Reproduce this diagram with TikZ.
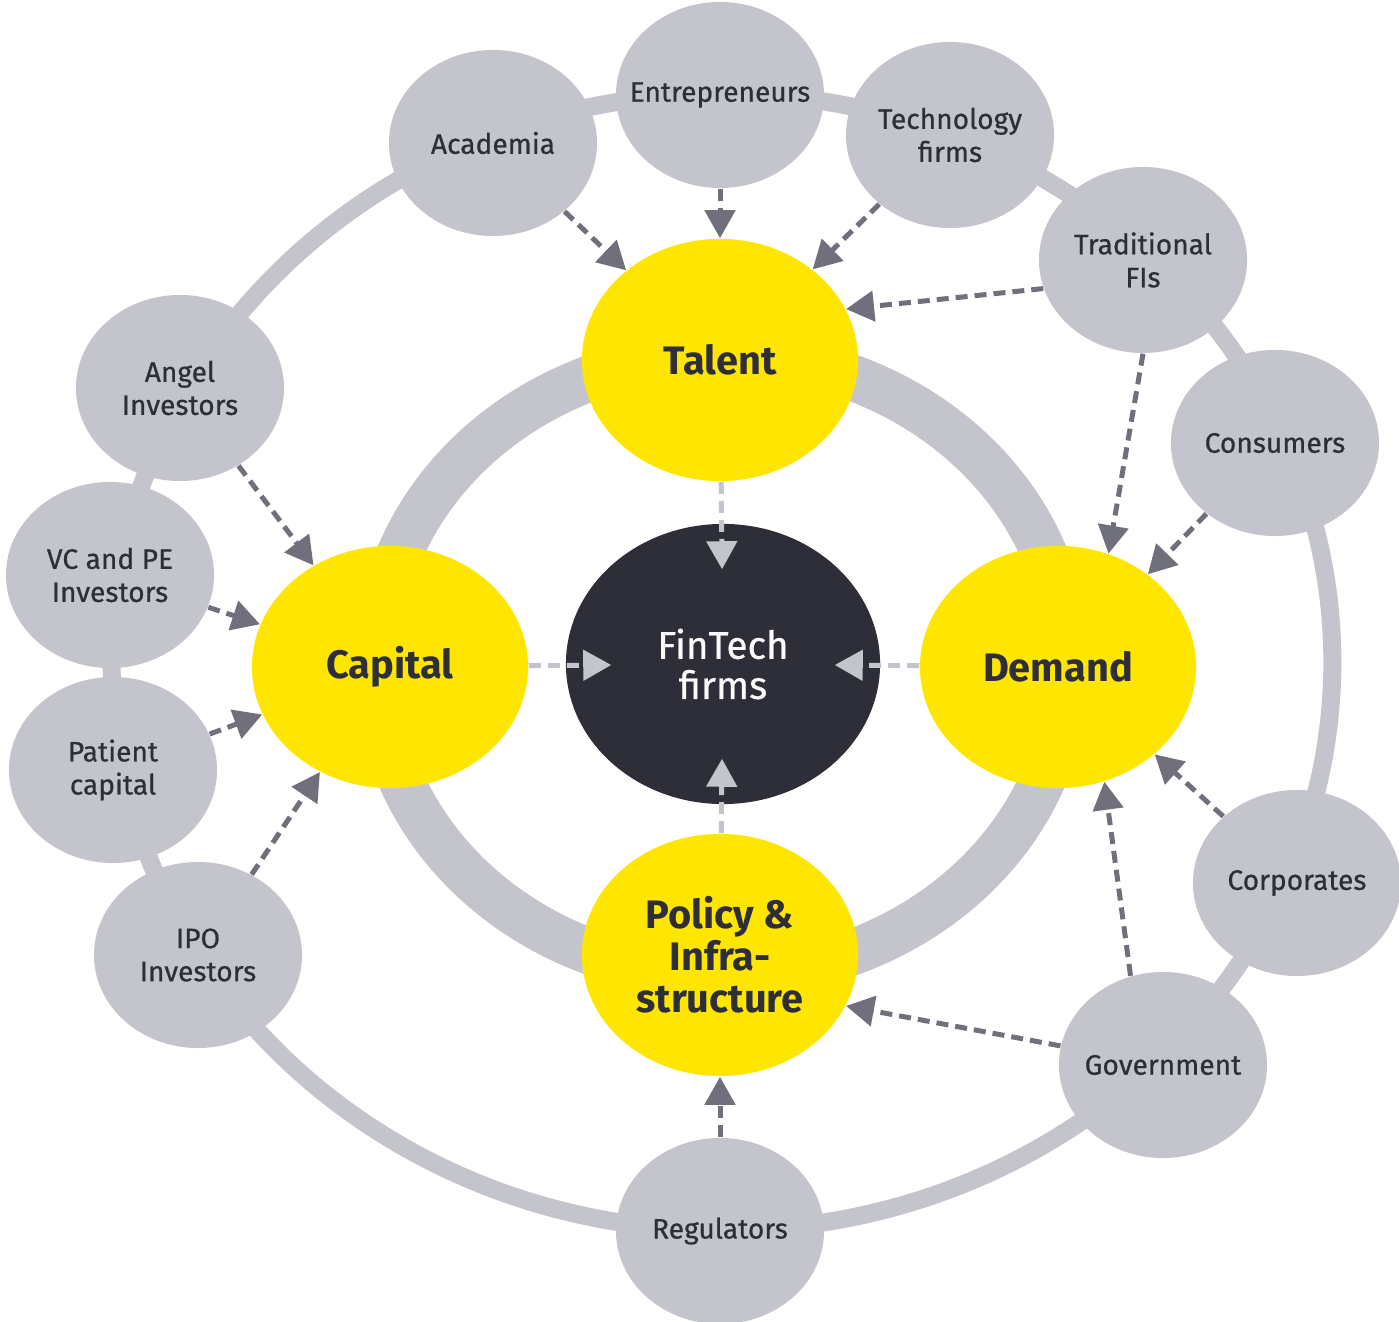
\documentclass[tikz,border=0pt]{standalone}
\usepackage{fontspec}
\setmainfont{Fira Sans}
\newfontfamily\firamedium{Fira Sans}[FakeBold=0.6]
\usetikzlibrary{shapes.geometric,arrows.meta}

\definecolor{eygray}{HTML}{C4C4CD}
\definecolor{eyyellow}{HTML}{FFE600}
\definecolor{eydark}{HTML}{2E2E38}
\definecolor{feedgray}{HTML}{70707C}
\definecolor{coregray}{HTML}{C4C4CC}

\begin{document}
\begin{tikzpicture}[x=0.01cm,y=0.01cm]

    \tikzset{
      player/.style={
        ellipse,
        fill=eygray,
        text=eydark,
        align=center,
        inner xsep=-0.4cm,
        inner ysep=0pt,
        minimum width=2.08cm,
        minimum height=1.86cm,
        font=\firamedium\fontsize{8}{9.4}\selectfont,
      },
      pillar/.style={
        ellipse,
        fill=eyyellow,
        text=eydark,
        align=center,
        inner sep=0pt,
        minimum width=2.76cm,
        minimum height=2.42cm,
        font=\fontsize{11.3}{12}\selectfont\bfseries,
      },
      hub/.style={
        ellipse,
        fill=eydark,
        text=white!92!eygray,
        align=center,
        inner sep=0pt,
        minimum width=3.14cm,
        minimum height=2.8cm,
        font=\firamedium\fontsize{11}{11.4}\selectfont,
      },
      feed/.style={
        draw=feedgray,
        line width=0.05cm,
        dash pattern=on 0.12cm off 0.07cm,
        -{Triangle[length=0.28cm,width=0.3cm]},
      },
      corefeed/.style={
        feed,
        draw=coregray,
        shorten >=-0.46cm,
      },
    }
    \useasboundingbox (0,0) rectangle (1399,-1322);

	 \draw[eygray,line width=0.18cm] (722,-662) ellipse [x radius=6.1cm, y radius=5.68cm];

	 \draw[eygray,line width=0.46cm] (722,-665) ellipse [x radius=3.45cm, y radius=3.10cm];

	 \node[player] (acad) at (493,-143) {Academia};

	 \node[player] (entre) at (720,-95) {Entrepreneurs};

	 \node[player] (tech) at (950,-135) {Technology\\firms};

	 \node[player] (trad) at (1143,-260) {Traditional\\FIs};

	 \node[player] (cons) at (1275,-443) {Consumers};

	 \node[player] (corp) at (1297,-883) {Corporates};

	 \node[player] (gov) at (1163,-1065) {Government};

	 \node[player] (reg) at (720,-1231) {Regulators};

	 \node[player] (ipo) at (198,-955) {IPO\\Investors};

	 \node[player] (patient) at (113,-770) {Patient\\capital};

	 \node[player] (vc) at (110,-575) {VC and PE\\Investors};

	 \node[player] (angel) at (180,-388) {Angel\\Investors};

	 \node[pillar] (talent) at (720,-360) {Talent};

	 \node[pillar] (capital) at (390,-667) {Capital};

	 \node[pillar] (demand) at (1058,-667) {Demand};

	 \node[pillar] (policy) at (720,-955) {Policy \&\\Infra-\\structure};

	 \node[hub] (fintech) at (723,-664) {FinTech\\firms};

	 \draw[feed] (acad) -- (talent);

	 \draw[feed] (entre) -- (talent);

	 \draw[feed] (tech) -- (talent);

	 \draw[feed] (trad.196) -- (talent.22);

	 \draw[feed] (trad.south) -- (demand.66);

	 \draw[feed] (cons) -- (demand);

	 \draw[feed] (corp) -- (demand);

	 \draw[feed] (gov.110) -- (demand.-68);

	 \draw[feed] (gov) -- (policy.-22);

	 \draw[feed] (reg) -- (policy);

	 \draw[feed] (ipo) -- (capital);

	 \draw[feed] (patient) -- (capital);

	 \draw[feed] (vc) -- (capital);

	 \draw[feed] (angel) -- (capital);

	 \draw[corefeed] (talent) -- (fintech);

	 \draw[corefeed] (capital) -- (fintech);

	 \draw[corefeed] (demand) -- (fintech);

	 \draw[corefeed] (policy) -- (fintech);

\end{tikzpicture}
\end{document}
